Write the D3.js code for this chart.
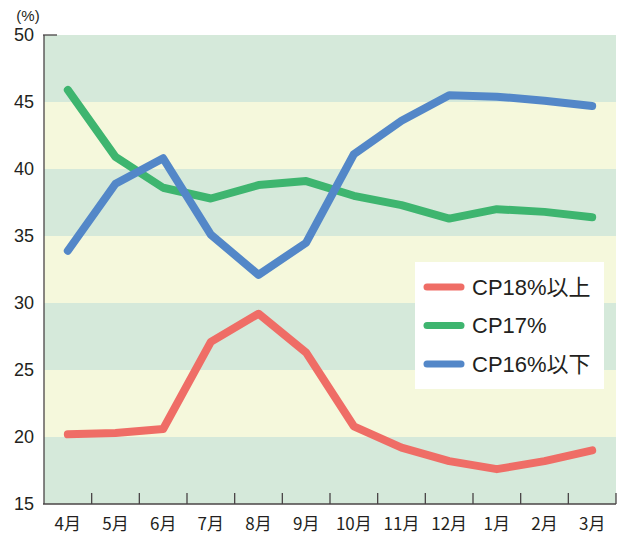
<!DOCTYPE html>
<html>
<head>
<meta charset="utf-8">
<script src="https://cdn.jsdelivr.net/npm/d3@7"></script>
<style>
  html, body { margin: 0; padding: 0; background: #ffffff; }
  svg { display: block; }
  .tick-label { font-family: "Liberation Sans Narrow", "Liberation Sans", Arial, sans-serif; fill: #231f20; }
  .month-label { font-family: "Liberation Sans Narrow", "Noto Sans CJK JP", sans-serif; fill: #231f20; }
  .legend-label { font-family: "Liberation Sans", "Noto Sans CJK JP", sans-serif; fill: #231f20; }
</style>
</head>
<body>
<script>
// Months of the fiscal year
const months = ["4月", "5月", "6月", "7月", "8月", "9月", "10月", "11月", "12月", "1月", "2月", "3月"];

// Share (%) per protein (CP) class
const cp18Plus = [20.2, 20.3, 20.6, 27.1, 29.2, 26.3, 20.8, 19.2, 18.2, 17.6, 18.2, 19.0];
const cp17 = [45.9, 40.9, 38.6, 37.8, 38.8, 39.1, 38.0, 37.3, 36.3, 37.0, 36.8, 36.4];
const cp16Less = [33.9, 38.9, 40.8, 35.1, 32.1, 34.5, 41.1, 43.6, 45.5, 45.4, 45.1, 44.7];

const seriesNames = ["CP18%以上", "CP17%", "CP16%以下"];
const seriesColors = ["#ef6d66", "#3eb56f", "#5387c8"];
const seriesValues = [cp18Plus, cp17, cp16Less];

// Y axis ticks
const yTicks = [15, 20, 25, 30, 35, 40, 45, 50];

const W = 624, H = 542;
const plotLeft = 44, plotRight = 616, plotTop = 35, plotBottom = 504;

const svg = d3.select("body").append("svg").attr("width", W).attr("height", H);

const x = d3.scaleBand().domain(months).range([plotLeft, plotRight]).padding(0);
const y = d3.scaleLinear().domain([15, 50]).range([plotBottom, plotTop]);
const cx = m => x(m) + x.bandwidth() / 2;

// Alternating horizontal bands
const bands = d3.pairs(yTicks);
svg.append("g").selectAll("rect").data(bands).join("rect")
  .attr("x", plotLeft)
  .attr("width", plotRight - plotLeft)
  .attr("y", d => y(d[1]))
  .attr("height", d => y(d[0]) - y(d[1]))
  .attr("fill", (d, i) => i % 2 === 0 ? "#d5e9da" : "#f5f8dc");

// Left axis labels
const yAxis = d3.axisLeft(y).tickValues(yTicks).tickSize(0).tickPadding(10).tickFormat(d3.format("d"));
const gy = svg.append("g").attr("transform", `translate(${plotLeft},0)`).call(yAxis);
gy.select(".domain").remove();
gy.selectAll("text").attr("class", "tick-label").attr("font-size", 18).attr("fill", "#231f20");

// Bottom axis labels
const xAxis = d3.axisBottom(x).tickSize(0).tickPadding(14);
const gx = svg.append("g").attr("transform", `translate(0,${plotBottom})`).call(xAxis);
gx.select(".domain").remove();
gx.selectAll("text").attr("class", "month-label").attr("font-size", 17).attr("fill", "#231f20");

// Axis frame
const axisColor = "#4a4446";
svg.append("line").attr("x1", plotLeft).attr("x2", plotLeft).attr("y1", y(50)).attr("y2", plotBottom)
  .attr("stroke", axisColor).attr("stroke-width", 1.3);
svg.append("line").attr("x1", plotLeft - 1).attr("x2", plotRight).attr("y1", plotBottom).attr("y2", plotBottom)
  .attr("stroke", axisColor).attr("stroke-width", 1.3);
svg.append("line").attr("x1", plotLeft - 1).attr("x2", plotLeft + 13).attr("y1", y(50)).attr("y2", y(50))
  .attr("stroke", axisColor).attr("stroke-width", 1.3);
// Separator ticks between months
svg.append("g").selectAll("line").data(months).join("line")
  .attr("x1", d => x(d) + x.bandwidth()).attr("x2", d => x(d) + x.bandwidth())
  .attr("y1", plotBottom).attr("y2", plotBottom - 11)
  .attr("stroke", axisColor).attr("stroke-width", 1.3);

// Unit label
svg.append("text").attr("class", "tick-label").attr("x", 28).attr("y", 21)
  .attr("text-anchor", "middle").attr("font-size", 15).text("(%)");

// Series lines
const line = d3.line().x((d, i) => cx(months[i])).y(d => y(d));
svg.append("g").selectAll("path").data(seriesValues).join("path")
  .attr("d", d => line(d))
  .attr("fill", "none")
  .attr("stroke", (d, i) => seriesColors[i])
  .attr("stroke-width", 8)
  .attr("stroke-linecap", "round")
  .attr("stroke-linejoin", "round");

// Legend
const lg = svg.append("g");
lg.append("rect").attr("x", 415).attr("y", 262).attr("width", 189).attr("height", 127).attr("fill", "#ffffff");
const rows = lg.selectAll("g").data(seriesNames).join("g")
  .attr("transform", (d, i) => `translate(0,${287 + i * 38.5})`);
rows.append("line").attr("x1", 427).attr("x2", 461).attr("y1", 0).attr("y2", 0)
  .attr("stroke", (d, i) => seriesColors[i]).attr("stroke-width", 7).attr("stroke-linecap", "round");
rows.append("text").attr("class", "legend-label").attr("x", 472).attr("y", 0).attr("dy", "0.36em")
  .attr("font-size", 22).text(d => d);
</script>
</body>
</html>
